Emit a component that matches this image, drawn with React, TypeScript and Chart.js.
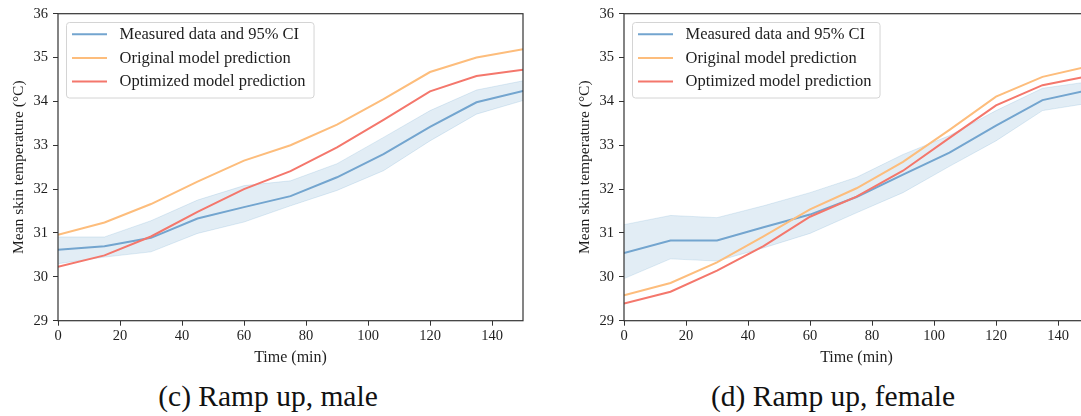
import React, { useEffect, useRef } from "react";
import { Chart, registerables } from "chart.js";

Chart.register(...registerables);

// Sampling times of the ramp-up protocol (minutes)
const timeMin = [0, 15, 30, 45, 60, 75, 90, 105, 120, 135, 150];
const xTickValues = [0, 20, 40, 60, 80, 100, 120, 140];
const yTickValues = [29, 30, 31, 32, 33, 34, 35, 36];

const legendLabels = [
  "Measured data and 95% CI",
  "Original model prediction",
  "Optimized model prediction",
];

// (c) Ramp up, male — mean skin temperature (°C)
const maleMeasured = [30.62, 30.7, 30.89, 31.33, 31.59, 31.84, 32.27, 32.8, 33.42, 33.98, 34.24];
const maleCiUpper = [30.91, 30.91, 31.28, 31.75, 32.08, 32.19, 32.58, 33.18, 33.79, 34.26, 34.47];
const maleCiLower = [30.3, 30.45, 30.57, 30.99, 31.25, 31.62, 31.97, 32.42, 33.1, 33.71, 34.02];
const maleOriginal = [30.96, 31.24, 31.66, 32.17, 32.65, 33.0, 33.47, 34.05, 34.67, 35.0, 35.19];
const maleOptimized = [30.23, 30.49, 30.92, 31.48, 32.0, 32.41, 32.95, 33.58, 34.23, 34.58, 34.72];

// (d) Ramp up, female — mean skin temperature (°C)
const femaleMeasured = [30.54, 30.83, 30.83, 31.13, 31.42, 31.82, 32.33, 32.83, 33.45, 34.03, 34.26];
const femaleCiUpper = [31.19, 31.4, 31.35, 31.62, 31.92, 32.27, 32.79, 33.22, 33.79, 34.3, 34.45];
const femaleCiLower = [29.96, 30.41, 30.36, 30.66, 30.99, 31.46, 31.92, 32.52, 33.1, 33.79, 33.96];
const femaleOriginal = [29.58, 29.86, 30.33, 30.92, 31.54, 32.02, 32.62, 33.35, 34.11, 34.56, 34.8];
const femaleOptimized = [29.39, 29.66, 30.14, 30.7, 31.37, 31.83, 32.42, 33.17, 33.91, 34.37, 34.58];

const FONT = "'Liberation Serif', 'Times New Roman', serif";
const TEXT = "#1e1e1e";
const AXIS = "#333333";
const BLUE = "#73a5cf";
const ORANGE = "#fdbd7c";
const RED = "#f4776c";
const BAND = "rgba(31, 119, 180, 0.13)";

const pts = (ys: number[]) => timeMin.map((t, i) => ({ x: t, y: ys[i] }));

// Box around the plotting area, like a classic axes frame
const framePlugin = {
  id: "axesFrame",
  afterDatasetsDraw(chart: any) {
    const { ctx, chartArea: a } = chart;
    ctx.save();
    ctx.strokeStyle = AXIS;
    ctx.lineWidth = 1.2;
    ctx.strokeRect(a.left, a.top, a.right - a.left, a.bottom - a.top);
    ctx.restore();
  },
};

// Framed legend in the upper-left corner of the plotting area
const boxLegendPlugin = {
  id: "boxLegend",
  afterDraw(chart: any) {
    const { ctx, chartArea: a } = chart;
    const items = chart.data.datasets.filter((d: any) => d.label && !d.isBand);
    ctx.save();
    ctx.font = `16.5px ${FONT}`;
    const textW = Math.max(...items.map((d: any) => ctx.measureText(d.label).width));
    const x0 = a.left + 8;
    const y0 = a.top + 8.3;
    const rowH = 23.7;
    const w = 53.5 + textW + 8;
    const h = 75.5;
    ctx.beginPath();
    ctx.roundRect(x0 + 0.5, y0 + 0.5, w, h, 3);
    ctx.fillStyle = "rgba(255,255,255,0.8)";
    ctx.fill();
    ctx.strokeStyle = "#d4d4d4";
    ctx.lineWidth = 1;
    ctx.stroke();
    items.forEach((d: any, i: number) => {
      const cy = y0 + 12.2 + i * rowH;
      ctx.beginPath();
      ctx.strokeStyle = d.borderColor;
      ctx.lineWidth = 2;
      ctx.moveTo(x0 + 6, cy);
      ctx.lineTo(x0 + 41, cy);
      ctx.stroke();
      ctx.fillStyle = TEXT;
      ctx.textBaseline = "middle";
      ctx.textAlign = "left";
      ctx.fillText(d.label, x0 + 53.5, cy + 0.5);
    });
    ctx.restore();
  },
};

function buildConfig(
  measured: number[],
  upper: number[],
  lower: number[],
  original: number[],
  optimized: number[]
): any {
  return {
    type: "line",
    data: {
      datasets: [
        { label: legendLabels[0], data: pts(measured), borderColor: BLUE, borderWidth: 2, order: 3, fill: false },
        { label: legendLabels[1], data: pts(original), borderColor: ORANGE, borderWidth: 2, order: 2, fill: false },
        { label: legendLabels[2], data: pts(optimized), borderColor: RED, borderWidth: 2, order: 1, fill: false },
        {
          label: "CI upper",
          isBand: true,
          data: pts(upper),
          borderColor: BAND,
          borderWidth: 1,
          backgroundColor: BAND,
          fill: "+1",
          order: 4,
        },
        {
          label: "CI lower",
          isBand: true,
          data: pts(lower),
          borderColor: BAND,
          borderWidth: 1,
          fill: false,
          order: 5,
        },
      ],
    },
    options: {
      responsive: false,
      animation: false,
      devicePixelRatio: 1,
      layout: { padding: { left: 0, right: 17, top: 12.7, bottom: 0 } },
      elements: { point: { radius: 0, hoverRadius: 0 }, line: { tension: 0 } },
      plugins: { legend: { display: false }, tooltip: { enabled: false } },
      scales: {
        x: {
          type: "linear",
          min: 0,
          max: 150,
          afterBuildTicks: (s: any) => {
            s.ticks = xTickValues.map((v) => ({ value: v }));
          },
          afterFit: (s: any) => {
            s.height = 49.3;
          },
          grid: { display: true, drawOnChartArea: false, drawTicks: true, tickLength: 5, color: AXIS, lineWidth: 1 },
          border: { display: false },
          ticks: { font: { family: FONT, size: 14.5 }, color: TEXT, padding: 2, maxRotation: 0, autoSkip: false },
          title: {
            display: true,
            text: "Time (min)",
            font: { family: FONT, size: 16 },
            color: TEXT,
            padding: { top: 0, bottom: 3 },
          },
        },
        y: {
          type: "linear",
          min: 29,
          max: 36,
          afterBuildTicks: (s: any) => {
            s.ticks = yTickValues.map((v) => ({ value: v }));
          },
          afterFit: (s: any) => {
            s.width = 58;
          },
          grid: { display: true, drawOnChartArea: false, drawTicks: true, tickLength: 5, color: AXIS, lineWidth: 1 },
          border: { display: false },
          ticks: { font: { family: FONT, size: 14.5 }, color: TEXT, padding: 5, autoSkip: false },
          title: {
            display: true,
            text: "Mean skin temperature (°C)",
            font: { family: FONT, size: 15.5 },
            color: TEXT,
            padding: { top: 10, bottom: 0 },
          },
        },
      },
    },
    plugins: [framePlugin, boxLegendPlugin],
  };
}

type PanelProps = {
  left: number;
  captionCenter: number;
  caption: string;
  measured: number[];
  upper: number[];
  lower: number[];
  original: number[];
  optimized: number[];
};

function Panel(p: PanelProps) {
  const ref = useRef<HTMLCanvasElement | null>(null);
  useEffect(() => {
    if (!ref.current) return;
    const chart = new Chart(ref.current, buildConfig(p.measured, p.upper, p.lower, p.original, p.optimized));
    return () => chart.destroy();
  }, []);
  return (
    <>
      <canvas
        ref={ref}
        width={540}
        height={370}
        style={{ position: "absolute", left: p.left, top: 0, width: 540, height: 370 }}
      />
      <div
        style={{
          position: "absolute",
          left: p.captionCenter - 270,
          width: 540,
          top: 382,
          textAlign: "center",
          fontFamily: FONT,
          fontSize: 29.5,
          lineHeight: "29.5px",
          color: "#111",
          whiteSpace: "nowrap",
        }}
      >
        {p.caption}
      </div>
    </>
  );
}

export default function App() {
  return (
    <div
      style={{
        position: "fixed",
        left: 0,
        top: 0,
        width: 1081,
        height: 416,
        overflow: "hidden",
        background: "#ffffff",
      }}
    >
      <Panel
        left={0}
        captionCenter={268}
        caption="(c) Ramp up, male"
        measured={maleMeasured}
        upper={maleCiUpper}
        lower={maleCiLower}
        original={maleOriginal}
        optimized={maleOptimized}
      />
      <Panel
        left={566}
        captionCenter={833}
        caption="(d) Ramp up, female"
        measured={femaleMeasured}
        upper={femaleCiUpper}
        lower={femaleCiLower}
        original={femaleOriginal}
        optimized={femaleOptimized}
      />
    </div>
  );
}
